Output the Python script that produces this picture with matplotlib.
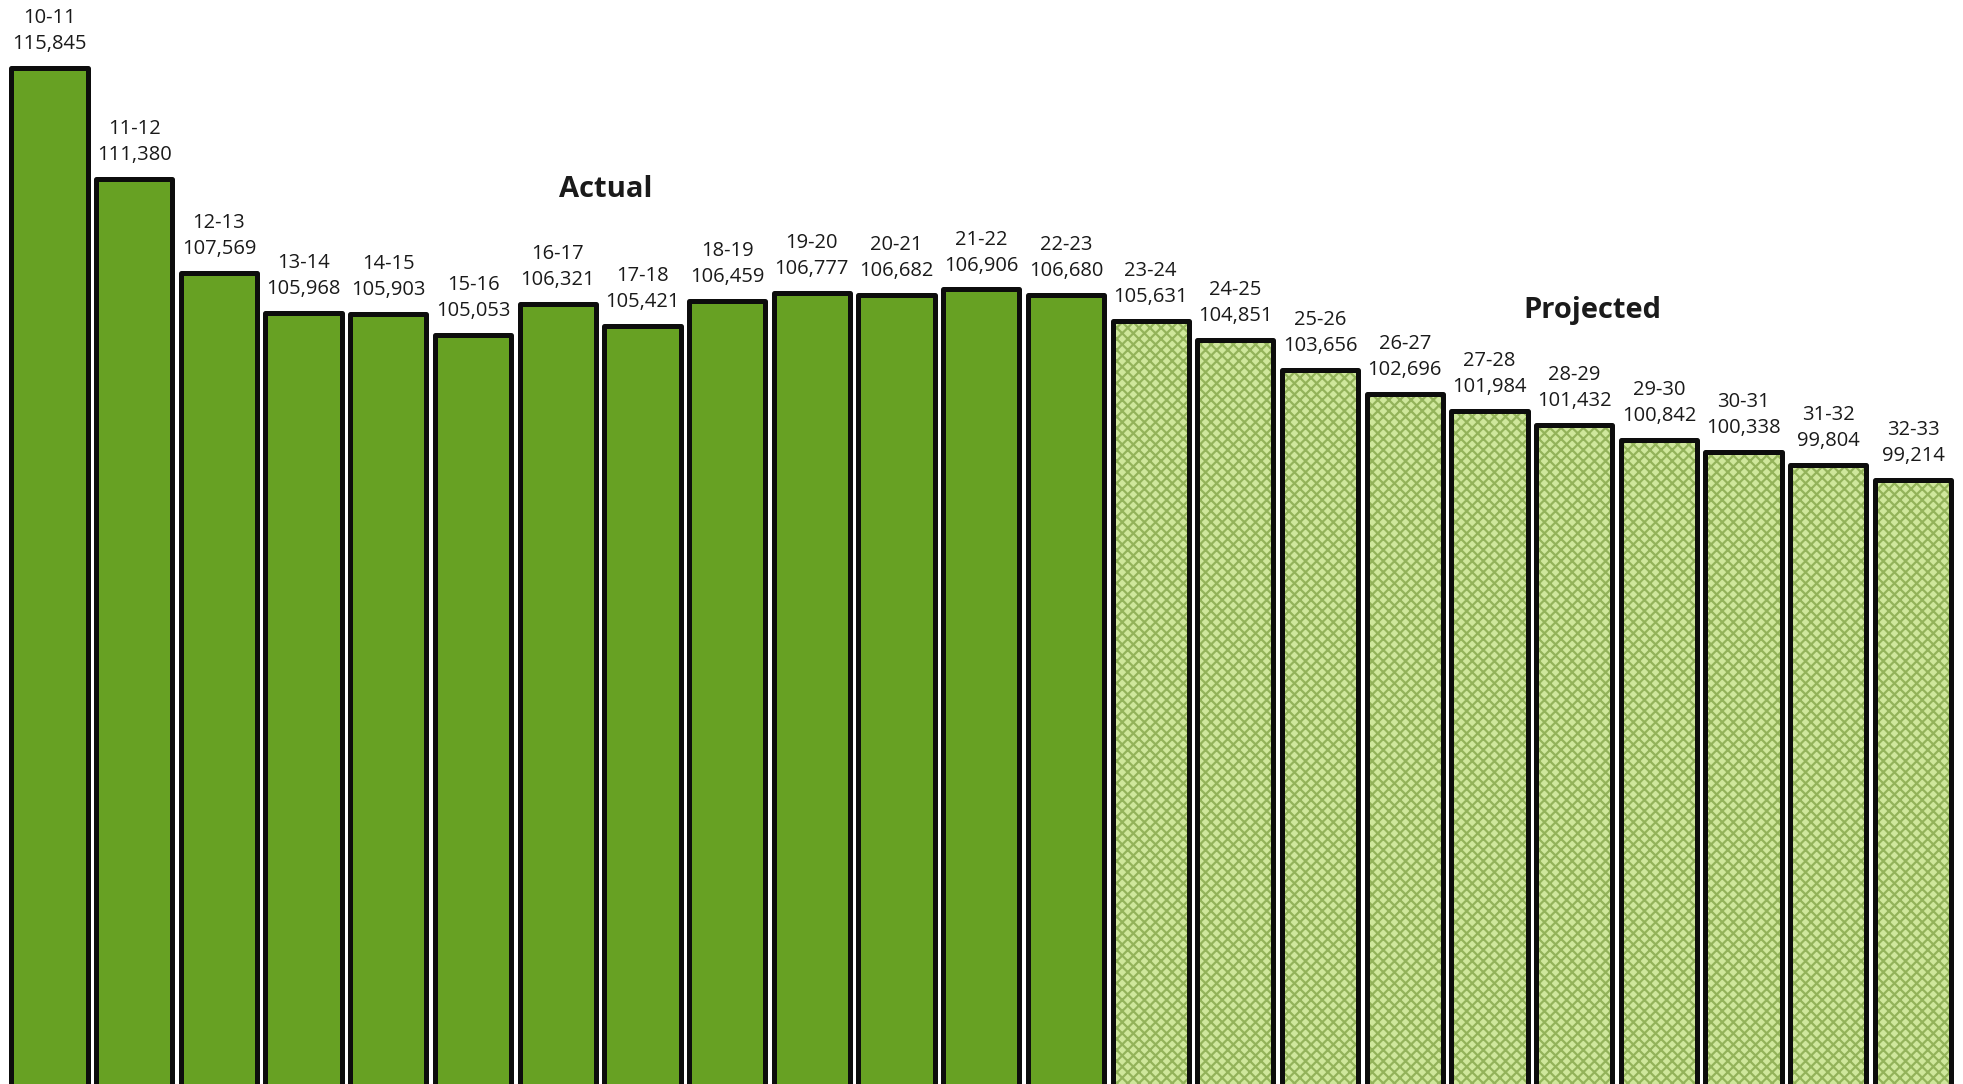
import numpy as np
import matplotlib
matplotlib.use("Agg")
import matplotlib.pyplot as plt

# ----------------------
# Data
# ----------------------
actual_years = ["10-11", "11-12", "12-13", "13-14", "14-15", "15-16", "16-17",
                "17-18", "18-19", "19-20", "20-21", "21-22", "22-23"]
actual_values = [115845, 111380, 107569, 105968, 105903, 105053, 106321,
                 105421, 106459, 106777, 106682, 106906, 106680]

projected_years = ["23-24", "24-25", "25-26", "26-27", "27-28", "28-29",
                   "29-30", "30-31", "31-32", "32-33"]
projected_values = [105631, 104851, 103656, 102696, 101984, 101432,
                    100842, 100338, 99804, 99214]

# ----------------------
# Style
# ----------------------
plt.rcParams['font.family'] = ['Open Sans', 'DejaVu Sans']
plt.rcParams['hatch.linewidth'] = 1.6
plt.rcParams['hatch.color'] = '#93b35a'

actual_color = '#67a123'
proj_face = '#cfe79c'
proj_hatch = '#93b35a'
bar_w = 0.9

fig = plt.figure(figsize=(19.63, 10.84), dpi=100)
ax = fig.add_axes([0, 0, 1, 1])

x_act = np.arange(len(actual_values))
x_proj = np.arange(len(projected_values)) + len(actual_values)

ax.bar(x_act, actual_values, width=bar_w, color=actual_color,
       edgecolor='#0d0d0d', linewidth=3.6, joinstyle='round', zorder=2)

# hatched fill first, then the black outline on top
ax.bar(x_proj, projected_values, width=bar_w, color=proj_face,
       edgecolor=proj_hatch, linewidth=0, hatch='xxx', zorder=2)
ax.bar(x_proj, projected_values, width=bar_w, fill=False,
       edgecolor='#0d0d0d', linewidth=3.6, joinstyle='round', zorder=3)

# value labels
for xs, yrs, vals in [(x_act, actual_years, actual_values),
                      (x_proj, projected_years, projected_values)]:
    for x, yr, v in zip(xs, yrs, vals):
        ax.annotate(f"{yr}\n{v:,}", (x, v), xytext=(0, 10),
                    textcoords='offset points', ha='center', va='bottom',
                    fontsize=14.5, linespacing=1.4, color='#1a1a1a')

ax.text(6.57, 110950, "Actual", ha='center', va='center',
        fontsize=21, fontweight='bold', color='#1a1a1a')
ax.text(18.22, 106050, "Projected", ha='center', va='center',
        fontsize=21, fontweight='bold', color='#1a1a1a')

ax.set_xlim(-0.584, 22.59)
ax.set_ylim(74830, 118590)
ax.axis('off')

fig.savefig("out.png", dpi=100)
